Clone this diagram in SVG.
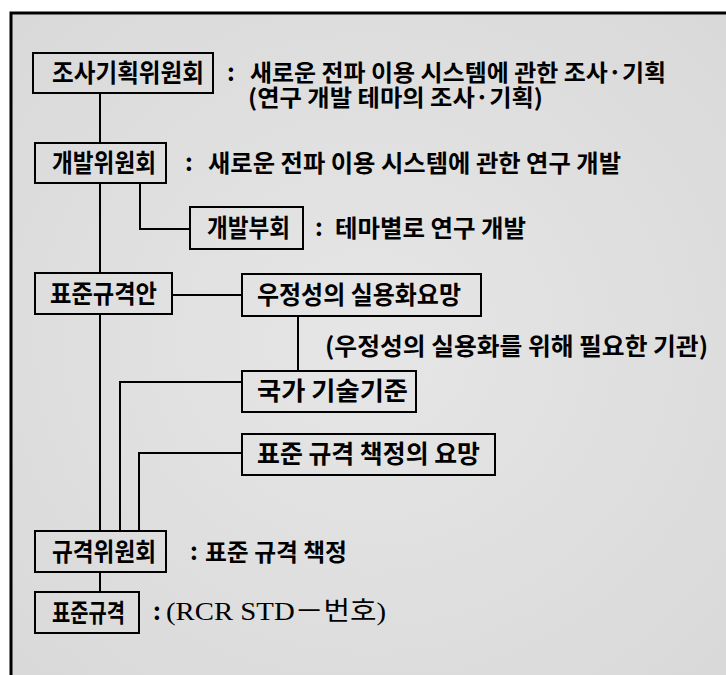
<svg xmlns="http://www.w3.org/2000/svg" width="726" height="675" viewBox="0 0 726 675">
<defs>
<radialGradient id="bg" cx="0.5" cy="0.5" r="0.7">
<stop offset="0" stop-color="#e6e6e6"/>
<stop offset="1" stop-color="#d9d9d9"/>
</radialGradient>
<style>
.box{fill:none;stroke:#000;stroke-width:2}
.ln{fill:none;stroke:#000;stroke-width:2}
.lbl{font-family:"Noto Sans CJK KR","Noto Sans",sans-serif;font-weight:700;fill:#000}
.dsc{font-family:"Noto Sans CJK KR","Noto Sans",sans-serif;font-weight:700;fill:#000}
.ser{font-family:"Liberation Serif","Noto Sans CJK KR",serif;font-weight:400;fill:#000}
</style>
</defs>
<rect x="0" y="0" width="726" height="675" fill="#fff"/>
<rect x="11" y="13" width="715" height="662" fill="url(#bg)"/>
<path d="M11 675 V13 H726" fill="none" stroke="#000" stroke-width="3"/>

<g id="connectors">
<path class="ln" d="M100 93 V143"/>
<path class="ln" d="M100 183 V273"/>
<path class="ln" d="M140 183 V229 H190"/>
<path class="ln" d="M172 295 H242"/>
<path class="ln" d="M298 316 V371"/>
<path class="ln" d="M100 314 V531"/>
<path class="ln" d="M242 382 H120 V531"/>
<path class="ln" d="M242 453 H139 V531"/>
<path class="ln" d="M100 572 V592"/>
</g>

<g id="node-josa">
<rect class="box" x="33" y="53" width="180" height="40"/>
<text class="lbl" font-size="25" x="52" y="82" textLength="152" lengthAdjust="spacingAndGlyphs">조사기획위원회</text>
<text class="dsc" font-size="24" x="227" y="81">:</text>
<text class="dsc" font-size="23" x="250" y="81" textLength="416" lengthAdjust="spacingAndGlyphs">새로운 전파 이용 시스템에 관한 조사·기획</text>
<text class="dsc" font-size="23" x="248" y="106" textLength="295" lengthAdjust="spacingAndGlyphs">(연구 개발 테마의 조사·기획)</text>
</g>

<g id="node-gaebal">
<rect class="box" x="35" y="143" width="131" height="40"/>
<text class="lbl" font-size="25" x="52" y="172" textLength="104" lengthAdjust="spacingAndGlyphs">개발위원회</text>
<text class="dsc" font-size="24" x="185" y="171">:</text>
<text class="dsc" font-size="24" x="208" y="172" textLength="413" lengthAdjust="spacingAndGlyphs">새로운 전파 이용 시스템에 관한 연구 개발</text>
</g>

<g id="node-bubu">
<rect class="box" x="190" y="207" width="113" height="42"/>
<text class="lbl" font-size="25" x="207" y="237" textLength="83" lengthAdjust="spacingAndGlyphs">개발부회</text>
<text class="dsc" font-size="24" x="315" y="236">:</text>
<text class="dsc" font-size="24" x="335" y="237" textLength="191" lengthAdjust="spacingAndGlyphs">테마별로 연구 개발</text>
</g>

<g id="node-pyojunan">
<rect class="box" x="35" y="273" width="137" height="41"/>
<text class="lbl" font-size="25" x="50" y="303" textLength="107" lengthAdjust="spacingAndGlyphs">표준규격안</text>
</g>

<g id="node-ujeong">
<rect class="box" x="242" y="274" width="239" height="42"/>
<text class="lbl" font-size="25" x="257" y="304" textLength="204" lengthAdjust="spacingAndGlyphs">우정성의 실용화요망</text>
<text class="dsc" font-size="24" x="325" y="355" textLength="383" lengthAdjust="spacingAndGlyphs">(우정성의 실용화를 위해 필요한 기관)</text>
</g>

<g id="node-gukga">
<rect class="box" x="242" y="371" width="174" height="41"/>
<text class="lbl" font-size="25" x="257" y="400" textLength="151" lengthAdjust="spacingAndGlyphs">국가 기술기준</text>
</g>

<g id="node-yomang">
<rect class="box" x="242" y="434" width="253" height="41"/>
<text class="lbl" font-size="25" x="257" y="463" textLength="223" lengthAdjust="spacingAndGlyphs">표준 규격 책정의 요망</text>
</g>

<g id="node-gyugyeok">
<rect class="box" x="35" y="531" width="131" height="41"/>
<text class="lbl" font-size="25" x="52" y="561" textLength="104" lengthAdjust="spacingAndGlyphs">규격위원회</text>
<text class="dsc" font-size="24" x="190" y="560">:</text>
<text class="dsc" font-size="24" x="205" y="561" textLength="142" lengthAdjust="spacingAndGlyphs">표준 규격 책정</text>
</g>

<g id="node-pyojun">
<rect class="box" x="35" y="592" width="104" height="41"/>
<text class="lbl" font-size="25" x="52" y="622" textLength="73" lengthAdjust="spacingAndGlyphs">표준규격</text>
<text class="dsc" font-size="24" x="153" y="620">:</text>
<text class="ser" font-size="26" x="166" y="620" textLength="220" lengthAdjust="spacingAndGlyphs">(RCR STD－번호)</text>
</g>
</svg>
